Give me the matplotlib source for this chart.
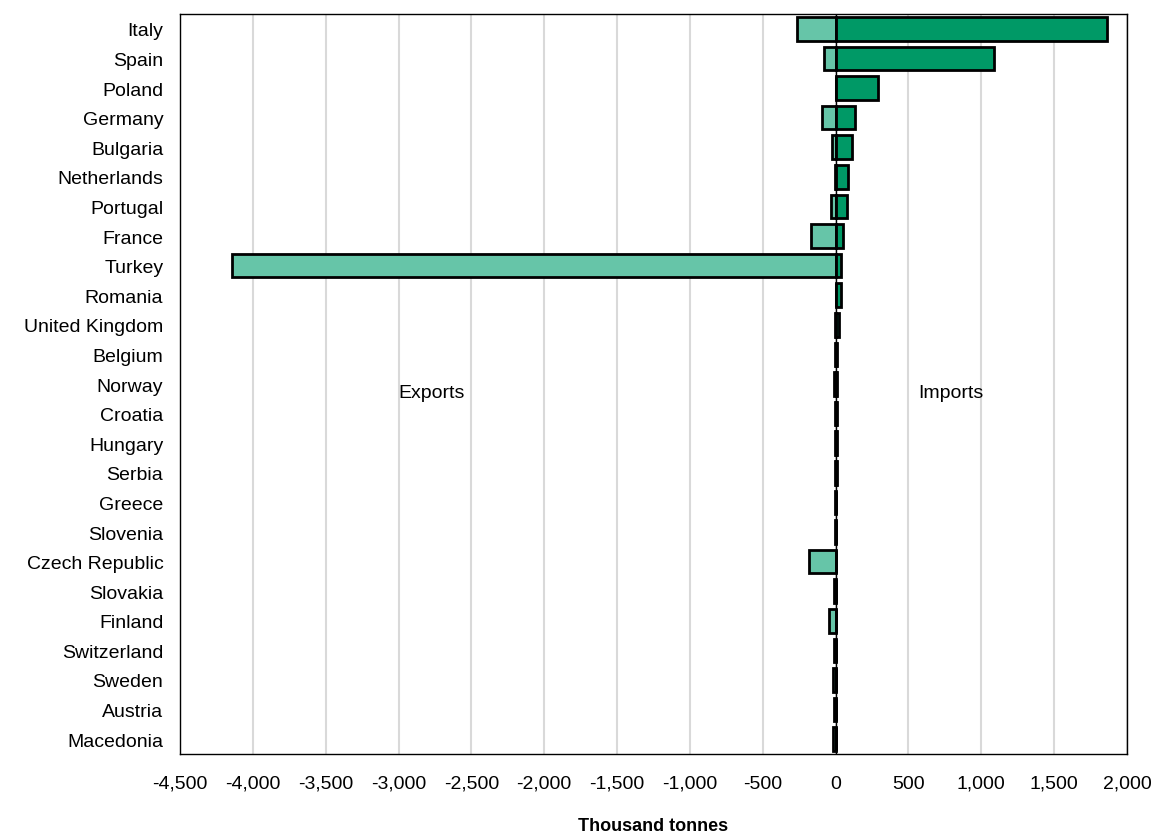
import matplotlib.pyplot as plt

plt.rcParams['font.family'] = ['Liberation Sans', 'DejaVu Sans']

countries = ["Italy", "Spain", "Poland", "Germany", "Bulgaria", "Netherlands",
             "Portugal", "France", "Turkey", "Romania", "United Kingdom", "Belgium",
             "Norway", "Croatia", "Hungary", "Serbia", "Greece", "Slovenia",
             "Czech Republic", "Slovakia", "Finland", "Switzerland", "Sweden",
             "Austria", "Macedonia"]
imports = [1860, 1090, 290, 133, 112, 85, 78, 50, 40, 38, 22, 12, 12, 8, 8, 6, 5, 5,
           3, 4, 2, 3, 2, 2, 2]
exports = [-265, -80, 0, -93, -25, -5, -32, -170, -4140, 0, -3, -5, -8, -5, -5, -5,
           -5, -5, -180, -8, -45, -10, -15, -12, -15]
xticks = list(range(-4500, 2001, 500))

fig = plt.figure(figsize=(11.55, 8.37), dpi=100)
ax = fig.add_axes([0.1558, 0.098, 0.82, 0.884])

y = list(range(len(countries)))
ax.barh(y, exports, height=0.8, color='#66C5A8', edgecolor='black', linewidth=2, zorder=3)
ax.barh(y, imports, height=0.8, color='#009966', edgecolor='black', linewidth=2, zorder=3)
ax.axvline(0, color='black', linewidth=1, zorder=4)

ax.set_xlim(-4500, 2000)
ax.set_ylim(len(countries) - 0.5, -0.5)
ax.set_yticks(y)
ax.set_yticklabels(countries, fontsize=14)
ax.set_xticks(xticks)
ax.set_xticklabels([f"{v:,}" for v in xticks], fontsize=14)
ax.tick_params(axis='y', length=0, pad=12)
ax.tick_params(axis='x', length=0, pad=15)
ax.grid(axis='x', color='#d9d9d9', linewidth=1.5, zorder=0)
for s in ax.spines.values():
    s.set_linewidth(1)
    s.set_color('black')

ax.text(-2770, 12.3, "Exports", fontsize=14, ha='center', va='center')
ax.text(790, 12.3, "Imports", fontsize=14, ha='center', va='center')
# x axis title placed in figure coords so it stays inside the canvas
fig.text(0.5654, 0.0025, "Thousand tonnes", fontsize=13, fontweight='bold',
         ha='center', va='bottom')

plt.savefig('out.png', dpi=100)
